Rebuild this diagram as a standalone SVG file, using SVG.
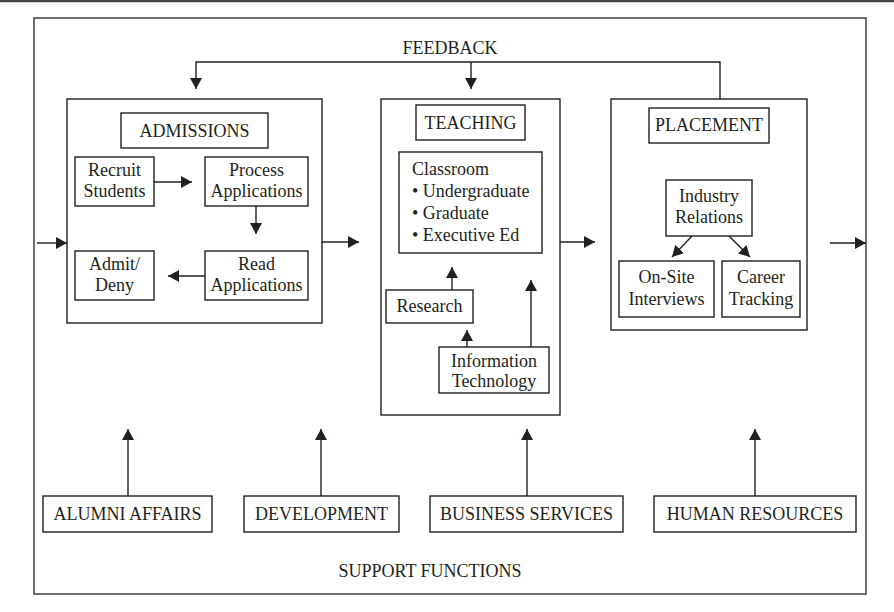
<svg xmlns="http://www.w3.org/2000/svg" width="894" height="612" viewBox="0 0 894 612">
  <style>
    .box { fill: #ffffff; stroke: #231f20; stroke-width: 1.4; }
    .frame { fill: none; stroke: #4d4d4d; stroke-width: 1.6; }
    .lbl { font-family: "Liberation Serif", "Times New Roman", serif; font-size: 18px; fill: #231f20; text-anchor: middle; }
    .lft { text-anchor: start; }
    .conn path { fill: none; stroke: #231f20; stroke-width: 1.4; marker-end: url(#head); }
    .conn path.plain { marker-end: none; }
  </style>
  <defs>
    <marker id="head" markerUnits="userSpaceOnUse" viewBox="0 0 11 12" refX="11" refY="6" markerWidth="11" markerHeight="12" orient="auto">
      <path d="M0,0 L11,6 L0,12 z" fill="#231f20"/>
    </marker>
  </defs>

  <rect width="894" height="612" fill="#ffffff"/>
  <!-- page rule and outer frame -->
  <line x1="0" y1="1" x2="894" y2="1" stroke="#404040" stroke-width="2.5"/>
  <rect class="frame" x="34" y="18" width="832" height="576"/>

  <text class="lbl" x="450" y="54">FEEDBACK</text>
  <text class="lbl" x="430" y="577">SUPPORT FUNCTIONS</text>

  <!-- Admissions -->
  <g id="admissions">
    <rect class="box" x="67" y="99" width="255" height="224"/>
    <rect class="box" x="121" y="113" width="147" height="35"/>
    <text class="lbl" x="194.5" y="137">ADMISSIONS</text>
  </g>
  <g id="recruit">
    <rect class="box" x="75" y="157" width="79" height="49"/>
    <text class="lbl" x="114.5" y="176">Recruit</text>
    <text class="lbl" x="114.5" y="197">Students</text>
  </g>
  <g id="process">
    <rect class="box" x="205" y="157" width="103" height="49"/>
    <text class="lbl" x="256.5" y="176">Process</text>
    <text class="lbl" x="256.5" y="197">Applications</text>
  </g>
  <g id="read">
    <rect class="box" x="205" y="251" width="103" height="49"/>
    <text class="lbl" x="256.5" y="270">Read</text>
    <text class="lbl" x="256.5" y="291">Applications</text>
  </g>
  <g id="admit">
    <rect class="box" x="75" y="251" width="79" height="49"/>
    <text class="lbl" x="114.5" y="270">Admit/</text>
    <text class="lbl" x="114.5" y="291">Deny</text>
  </g>

  <!-- Teaching -->
  <g id="teaching">
    <rect class="box" x="381" y="99" width="179" height="316"/>
    <rect class="box" x="416" y="105" width="109" height="35"/>
    <text class="lbl" x="470.5" y="129">TEACHING</text>
  </g>
  <g id="classroom">
    <rect class="box" x="399" y="152" width="143" height="101"/>
    <text class="lbl lft" x="412" y="175">Classroom</text>
    <text class="lbl lft" x="412" y="197">• Undergraduate</text>
    <text class="lbl lft" x="412" y="219">• Graduate</text>
    <text class="lbl lft" x="412" y="241">• Executive Ed</text>
  </g>
  <g id="research">
    <rect class="box" x="386" y="290" width="87" height="33"/>
    <text class="lbl" x="429.5" y="312">Research</text>
  </g>
  <g id="infotech">
    <rect class="box" x="439" y="347" width="110" height="46"/>
    <text class="lbl" x="494" y="367">Information</text>
    <text class="lbl" x="494" y="387">Technology</text>
  </g>

  <!-- Placement -->
  <g id="placement">
    <rect class="box" x="611" y="99" width="196" height="231"/>
    <rect class="box" x="649" y="108" width="120" height="35"/>
    <text class="lbl" x="709" y="131">PLACEMENT</text>
  </g>
  <g id="industry">
    <rect class="box" x="666" y="180" width="86" height="56"/>
    <text class="lbl" x="709" y="202">Industry</text>
    <text class="lbl" x="709" y="223">Relations</text>
  </g>
  <g id="onsite">
    <rect class="box" x="619" y="261" width="95" height="56"/>
    <text class="lbl" x="666.5" y="283">On-Site</text>
    <text class="lbl" x="666.5" y="305">Interviews</text>
  </g>
  <g id="career">
    <rect class="box" x="722" y="261" width="78" height="56"/>
    <text class="lbl" x="761" y="283">Career</text>
    <text class="lbl" x="761" y="305">Tracking</text>
  </g>

  <!-- Support functions -->
  <g id="alumni">
    <rect class="box" x="43" y="496" width="169" height="36"/>
    <text class="lbl" x="127.5" y="520">ALUMNI AFFAIRS</text>
  </g>
  <g id="development">
    <rect class="box" x="244" y="496" width="155" height="36"/>
    <text class="lbl" x="321.5" y="520">DEVELOPMENT</text>
  </g>
  <g id="business">
    <rect class="box" x="430" y="496" width="193" height="36"/>
    <text class="lbl" x="526.5" y="520">BUSINESS SERVICES</text>
  </g>
  <g id="hr">
    <rect class="box" x="654" y="496" width="202" height="36"/>
    <text class="lbl" x="755" y="520">HUMAN RESOURCES</text>
  </g>

  <!-- Connectors -->
  <g id="connectors" class="conn">
    <path d="M720,99 V62 H196 V89"/>
    <path d="M471,62 V89"/>
    <path d="M37,243 H67"/>
    <path d="M322,242 H359"/>
    <path d="M560,242 H595"/>
    <path d="M830,243 H866"/>
    <path d="M154,182 H192"/>
    <path d="M256,206 V234"/>
    <path d="M205,276 H168"/>
    <path d="M452,290 V267"/>
    <path d="M467,347 V330"/>
    <path d="M531,347 V280"/>
    <path d="M692,236 L672,257"/>
    <path d="M729,236 L750,257"/>
    <path d="M128,496 V429"/>
    <path d="M321,496 V429"/>
    <path d="M527,496 V429"/>
    <path d="M755,496 V429"/>
  </g>
</svg>
